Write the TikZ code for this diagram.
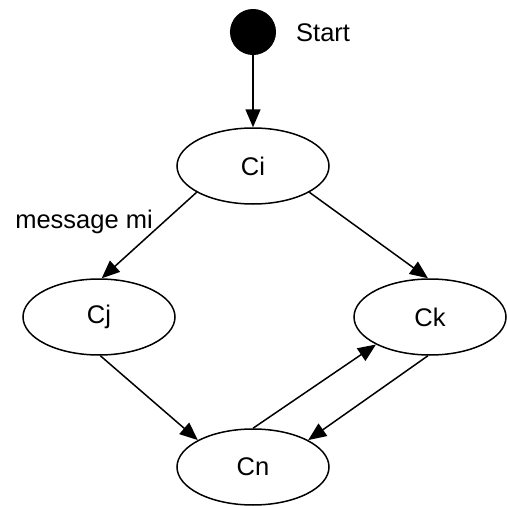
\documentclass[tikz,border=0pt]{standalone}
\usepackage{fontspec}
\setmainfont{Liberation Sans}
\usetikzlibrary{shapes.geometric,arrows.meta}
\begin{document}
\begin{tikzpicture}[x=1pt,y=-1pt,
  state/.style={draw,ellipse,line width=1.5pt,minimum width=152pt,minimum height=76pt,inner sep=0pt,font=\fontsize{25.5}{30}\selectfont},
  conn/.style={line width=1.5pt,-{Triangle[length=18pt,width=15pt]}},
  lbl/.style={font=\fontsize{25.5}{30}\selectfont,inner sep=0pt}]
\useasboundingbox (0,0) rectangle (507,506);
\node[circle,fill=black,draw,line width=1pt,minimum size=45pt,inner sep=0pt] (start) at (253,32) {};
\node[lbl,anchor=west] (startlbl) at (296,33) {Start};
\node[state] (Ci) at (253,166) {Ci};
\node[state] (Cj) at (99,317) {Cj};
\node[state] (Ck) at (430,317) {Ck};
\node[state] (Cn) at (253,467) {Cn};
\node[lbl] (msg) at (84,222) {message mi};
\draw[conn] (start) -- (Ci.north);
\draw[conn] (Ci.205) -- (Cj.86);
\draw[conn] (Ci.335) -- (Ck.93);
\draw[conn] (Cj.272) -- (Cn.154);
\draw[conn] (Cn.90) -- (Ck.207);
\draw[conn] (Ck.267) -- (Cn.26);
\end{tikzpicture}
\end{document}
